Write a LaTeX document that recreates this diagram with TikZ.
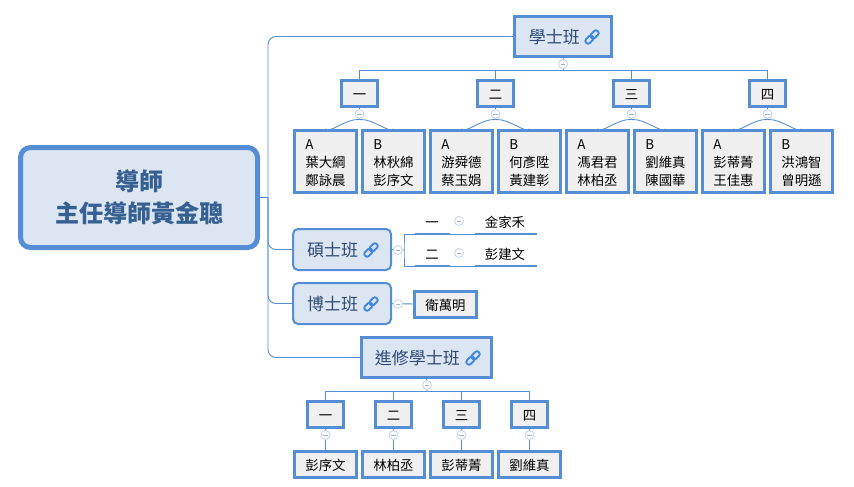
\documentclass[tikz,border=0pt]{standalone}
\usepackage{fontspec}
\setmainfont{Noto Sans CJK TC}
\definecolor{edge}{HTML}{558ED5}
\definecolor{chainblue}{HTML}{4189E0}
\definecolor{panel}{HTML}{DCE6F2}
\definecolor{leaf}{HTML}{F0F0F0}
\definecolor{ink}{HTML}{2F4B74}
\definecolor{rootink}{HTML}{376092}
\definecolor{knob}{HTML}{C6D5F0}
\definecolor{knobdash}{HTML}{9DB2D3}
\newcommand{\dropped}[1]{\raisebox{-1.5pt}{#1}}
\tikzset{
  conn/.style={draw=edge,line width=0.9pt},
  rootbox/.style={draw=edge,fill=panel,line width=5pt,rounded corners=10pt,
    minimum width=237pt,minimum height=100pt,align=center,text=rootink,
    font=\fontsize{24}{32}\selectfont\bfseries,inner sep=0pt},
  mainbox/.style={draw=edge,fill=panel,line width=2.6pt,minimum height=40.4pt,
    text=ink,font=\fontsize{17}{20}\selectfont,inner sep=0pt,text height=13.5pt,text depth=2.5pt},
  softbox/.style={mainbox,line width=2pt,rounded corners=5pt,minimum width=98pt,minimum height=41pt},
  numbox/.style={draw=edge,fill=leaf,line width=3pt,minimum width=36pt,minimum height=26pt,
    font=\fontsize{13.4}{16}\selectfont,inner sep=0pt,text height=13.5pt,text depth=1.5pt},
  namebox/.style={numbox,minimum width=62pt},
  pairbox/.style={draw=edge,fill=leaf,line width=3pt,minimum width=62pt,minimum height=62pt,
    inner sep=0pt,align=left,font=\fontsize{13.4}{18}\selectfont},
  plain/.style={inner sep=0pt,font=\fontsize{13.4}{16}\selectfont,text height=13.5pt,text depth=1.5pt},
  knobnode/.style={circle,draw=knob,fill=white,line width=0.9pt,minimum size=9pt,inner sep=0pt,
    path picture={\draw[knobdash,line width=0.9pt] ([xshift=-2.3pt]path picture bounding box.center) -- ([xshift=2.3pt]path picture bounding box.center);}},
  pics/chain/.style={code={
    \begin{scope}[rotate=45]
      \draw[chainblue,line width=1.9pt,rounded corners=2.2pt] (-8.2,-2.6) rectangle (0.8,2.6);
      \draw[chainblue,line width=1.9pt,rounded corners=2.2pt] (-0.8,-2.6) rectangle (8.2,2.6);
    \end{scope}
  }}
}
\begin{document}
\begin{tikzpicture}[x=1pt,y=-1pt]
\useasboundingbox (0,0) rectangle (854,487);

% centre topic and the trunk leaving it
\node[rootbox] (root) at (139,197.5) {導師\\主任導師黃金聰};
\coordinate (trunk) at (268,197.5);

% first-level topics
\node[mainbox,minimum width=97.4pt,text width=97.4pt,align=left] (xue) at (563,36.5) {\hspace{14.5pt}\dropped{學士班}};
\node[softbox,text width=98pt,align=left] (shuo) at (342,249.5) {\hspace{14pt}\dropped{碩士班}};
\node[softbox,text width=98pt,align=left] (bo) at (342,303.5) {\hspace{14pt}\dropped{博士班}};
\node[mainbox,minimum width=130.4pt,text width=130.4pt,align=left] (jin) at (426.5,357.5) {\hspace{13.5pt}\dropped{進修學士班}};
\pic at (592,37) {chain};
\pic at (371,250) {chain};
\pic at (371,304) {chain};
\pic at (473,358) {chain};

\draw[conn] (root.east) -- (trunk);
\draw[conn,rounded corners=8pt] (xue.west) -| (trunk) |- (jin.west);
\draw[conn,rounded corners=8pt] (trunk) |- (shuo.west);
\draw[conn,rounded corners=8pt] (trunk) |- (bo.west);

% undergraduate class: years
\node[numbox] (x1) at (359.5,93.5) {一};
\node[numbox] (x2) at (495.5,93.5) {二};
\node[numbox] (x3) at (631.5,93.5) {三};
\node[numbox] (x4) at (767.5,93.5) {四};
\coordinate (xbar) at (563,70.5);
\draw[conn] (xue.south) -- (xbar);
\draw[conn] (x1.north) |- (xbar) -| (x4.north);
\draw[conn] (x2.north) -- (x2.north |- xbar);
\draw[conn] (x3.north) -- (x3.north |- xbar);
\node[knobnode] (kx) at (563,64) {};

% undergraduate class: groups A and B of each year
\foreach \n/\cx/\ax/\atext/\bx/\btext in {
  1/359.5/325.5/葉大綱\\鄭詠晨/393.5/林秋綿\\彭序文,
  2/495.5/461.5/游舜德\\蔡玉娟/529.5/何彥陞\\黃建彰,
  3/631.5/597.5/馮君君\\林柏丞/665.5/劉維真\\陳國華,
  4/767.5/733.5/彭蒂菁\\王佳惠/801.5/洪鴻智\\曾明遜}{
  \node[pairbox] (a\n) at (\ax,161.5) {\rule{0pt}{14pt}A\\\atext};
  \node[pairbox] (b\n) at (\bx,161.5) {\rule{0pt}{14pt}B\\\btext};
  \coordinate (s\n) at (\cx,119.5);
  \draw[conn] (x\n.south) -- (s\n);
  \draw[conn] (a\n.north) .. controls ([xshift=5pt,yshift=-4.5pt]a\n.north) and ([xshift=-14pt,yshift=1pt]s\n) .. (s\n)
     .. controls ([xshift=14pt,yshift=1pt]s\n) and ([xshift=-5pt,yshift=-4.5pt]b\n.north) .. (b\n.north);
  \node[knobnode] (kx\n) at (\cx,114) {};
}

% master's class: a bracket with two ruled rows
\coordinate (sb) at (404,250);
\draw[conn] (shuo.east) -- (sb);
\node[knobnode] (ks) at (398,250) {};
\coordinate (ra) at (415,234);
\coordinate (rb) at (415,266);
\coordinate (ea) at (537,234);
\coordinate (eb) at (537,266);
\draw[conn] (ra) -| (sb) |- (rb);
\draw[conn] (ra) -- (ea);
\draw[conn] (rb) -- (eb);
\foreach \r/\e in {ra/ea,rb/eb}{
  \draw[edge,line width=2.4pt] (\r) -- ++(35,0);
  \draw[edge,line width=2.4pt] (\e) -- ++(-62,0);
}
\node[plain] (m1) at (432,221) {一};
\node[plain] (m2) at (432,253) {二};
\node[knobnode] (km1) at (459,221) {};
\node[knobnode] (km2) at (459,253) {};
\node[plain] (n1) at (505,221) {金家禾};
\node[plain] (n2) at (505,253) {彭建文};

% doctoral class
\node[namebox] (d) at (445.5,304) {衛萬明};
\draw[conn] (bo.east) -- (d.west);
\node[knobnode] (kd) at (398,304) {};

% in-service class
\node[numbox] (j1) at (325.5,414.5) {一};
\node[numbox] (j2) at (393.5,414.5) {二};
\node[numbox] (j3) at (461.5,414.5) {三};
\node[numbox] (j4) at (529.5,414.5) {四};
\coordinate (jbar) at (427,391.5);
\draw[conn] (jin.south) -- (jbar);
\draw[conn] (j1.north) |- (jbar) -| (j4.north);
\draw[conn] (j2.north) -- (j2.north |- jbar);
\draw[conn] (j3.north) -- (j3.north |- jbar);
\node[knobnode] (kj) at (427,385) {};
\foreach \n/\cx/\name in {1/325.5/彭序文,2/393.5/林柏丞,3/461.5/彭蒂菁,4/529.5/劉維真}{
  \node[namebox] (t\n) at (\cx,464.5) {\name};
  \draw[conn] (j\n.south) -- (t\n.north);
  \node[knobnode] (kt\n) at (\cx,435) {};
}
\end{tikzpicture}
\end{document}
